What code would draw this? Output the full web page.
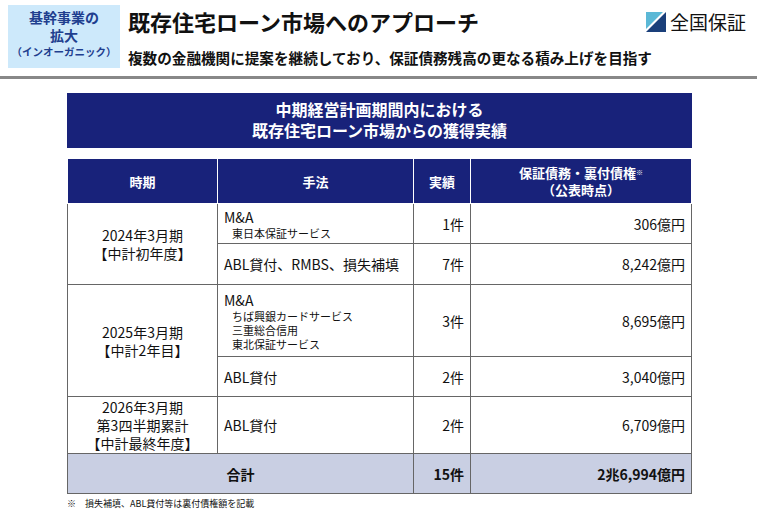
<!DOCTYPE html>
<html><head><meta charset="utf-8">
<script src="https://cdn.jsdelivr.net/npm/chart.js@4"></script>
<style>
body{margin:0;width:757px;height:514px;background:#fff;font-family:"Noto Sans CJK JP",sans-serif;position:relative;overflow:hidden;color:#111}
.badge{position:absolute;left:8px;top:5px;width:112px;height:63px;background:#cde9fb;color:#1f3f8f;font-weight:bold;text-align:center;font-size:14px;line-height:18px;padding-top:3px;box-sizing:border-box}
.badge small{font-size:10.5px;display:block;line-height:15px}
.title{position:absolute;left:128px;top:5px;font-size:22px;font-weight:bold}
.sub{position:absolute;left:128px;top:47px;font-size:14.6px;font-weight:bold}
.logo{position:absolute;left:646px;top:8px;font-size:19px;display:flex;align-items:center;gap:4px}
.rule{position:absolute;left:0;top:76px;width:757px;height:3px;background:#888}
.banner{position:absolute;left:67px;top:93px;width:625px;height:55px;background:#18227a;color:#fff;font-weight:bold;font-size:16px;text-align:center;line-height:21px;padding-top:6px;box-sizing:border-box}
table{position:absolute;left:67px;top:158px;border-collapse:collapse;width:625px;font-size:14px}
td,th{border:1px solid #666;padding:0 6px;line-height:18px}
th{background:#18227a;color:#fff;height:44px;font-size:13px;border-color:#fff;line-height:17px}
.r{text-align:right}
.c{text-align:center}
.m small{display:block;font-size:11px;line-height:14px;padding-left:8px}
.tot td{background:#c9cfe3;font-weight:bold;height:39px}
.note{position:absolute;left:67px;top:497px;font-size:9px}
</style></head><body>
<div class="badge">基幹事業の<br>拡大<small>（インオーガニック）</small></div>
<div class="title">既存住宅ローン市場へのアプローチ</div>
<div class="sub">複数の金融機関に提案を継続しており、保証債務残高の更なる積み上げを目指す</div>
<div class="logo"><svg width="20" height="20"><polygon points="0,20 20,0 20,20" fill="#1a3f7a"/><polygon points="0,0 17,0 0,17" fill="#5bb8d6"/></svg>全国保証</div>
<div class="rule"></div>
<div class="banner">中期経営計画期間内における<br>既存住宅ローン市場からの獲得実績</div>
<table id="t"></table>
<div class="note">※　損失補填、ABL貸付等は裏付債権額を記載</div>
<script>
const headers = ['時期', '手法', '実績', '保証債務・裏付債権<span style="font-size:7px;vertical-align:top">※</span><br>（公表時点）'];
const periods = ['2024年3月期<br>【中計初年度】', '2025年3月期<br>【中計2年目】', '2026年3月期<br>第3四半期累計<br>【中計最終年度】'];
const methods = [['M&amp;A', ['東日本保証サービス']], ['ABL貸付、RMBS、損失補填', []], ['M&amp;A', ['ちば興銀カードサービス', '三重総合信用', '東北保証サービス']], ['ABL貸付', []], ['ABL貸付', []]];
const periodOf = [0, 0, 1, 1, 2];
const counts = [1, 7, 3, 2, 2];
const amounts = [306, 8242, 8695, 3040, 6709];
const rowHeights = [40, 41, 72, 40, 57];
const totalCount = '15件';
const totalAmount = '2兆6,994億円';

let html = '<tr>' + headers.map((h, i) => `<th style="width:${[137,183,44,0][i] || 'auto'}px">${h}</th>`).join('') + '</tr>';
methods.forEach((m, i) => {
    html += `<tr style="height:${rowHeights[i]}px">`;
    if (i === 0 || periodOf[i] !== periodOf[i - 1]) {
        const span = periodOf.filter(p => p === periodOf[i]).length;
        html += `<td class="c" rowspan="${span}">${periods[periodOf[i]]}</td>`;
    }
    html += `<td class="m">${m[0]}${m[1].map(s => '<small>' + s + '</small>').join('')}</td>`;
    html += `<td class="r">${counts[i]}件</td><td class="r">${amounts[i].toLocaleString()}億円</td></tr>`;
});
html += `<tr class="tot"><td colspan="2" class="c">合計</td><td class="r">${totalCount}</td><td class="r">${totalAmount}</td></tr>`;
document.getElementById('t').innerHTML = html;
</script>
</body></html>
